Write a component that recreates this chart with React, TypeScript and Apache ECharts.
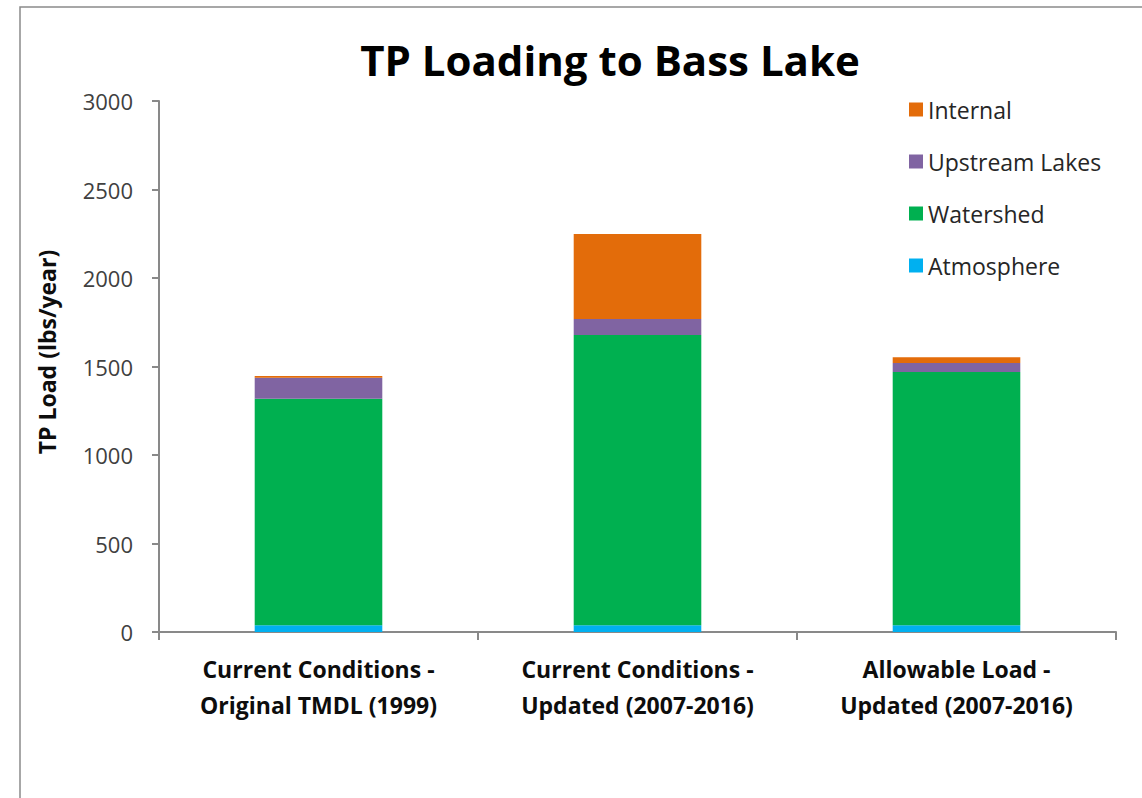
import React, { useEffect, useRef } from "react";
import * as echarts from "echarts";

const categories = [
  "Current Conditions -\nOriginal TMDL (1999)",
  "Current Conditions -\nUpdated (2007-2016)",
  "Allowable Load -\nUpdated (2007-2016)",
];
const atmosphere = [38, 38, 38];
const watershed = [1280, 1640, 1431];
const upstreamLakes = [119, 90, 51];
const internal = [9, 481, 32];
const legendOrder = ["Internal", "Upstream Lakes", "Watershed", "Atmosphere"];

const FONT = "Open Sans";

export default function App() {
  const ref = useRef<HTMLDivElement>(null);
  useEffect(() => {
    const chart = echarts.init(ref.current!, null, { renderer: "svg" });
    const mk = (name: string, data: number[], color: string) => ({
      name,
      type: "bar",
      stack: "total",
      data,
      barCategoryGap: "60%",
      itemStyle: { color },
    });
    chart.setOption({
      animation: false,
      textStyle: { fontFamily: FONT },
      title: {
        text: "TP Loading to Bass Lake",
        left: 605,
        top: 33,
        textAlign: "center",
        textStyle: { fontFamily: FONT, fontSize: 42, fontWeight: "bold", color: "#000" },
      },
      legend: {
        data: legendOrder,
        orient: "vertical",
        left: 904,
        top: 93,
        itemWidth: 14,
        itemHeight: 14,
        itemGap: 29,
        icon: "rect",
        textStyle: { fontFamily: FONT, fontSize: 23, color: "#262626", padding: [0, 0, 0, 0] },
      },
      grid: { left: 159, top: 101, width: 957, height: 531, containLabel: false },
      xAxis: {
        type: "category",
        data: categories,
        axisLine: { lineStyle: { color: "#898989", width: 2 } },
        axisTick: { show: true, length: 8, lineStyle: { color: "#898989", width: 2 } },
        axisLabel: {
          fontFamily: FONT,
          fontSize: 23,
          fontWeight: "bold",
          color: "#0d0d0d",
          lineHeight: 36,
          margin: 19,
        },
      },
      yAxis: {
        type: "value",
        min: 0,
        max: 3000,
        interval: 500,
        splitLine: { show: false },
        axisLine: { show: true, lineStyle: { color: "#898989", width: 2 } },
        axisTick: { show: true, length: 7, lineStyle: { color: "#898989", width: 2 } },
        axisLabel: {
          fontFamily: FONT,
          fontSize: 22,
          color: "#404040",
          margin: 26,
          formatter: (v: number) => String(v),
        },
      },
      graphic: [
        {
          type: "rect",
          shape: { x: 20, y: 7, width: 1300, height: 1000 },
          style: { fill: "none", stroke: "#8a8a8a", lineWidth: 1.5 },
          silent: true,
        },
        {
          type: "text",
          x: 47,
          y: 352,
          rotation: Math.PI / 2,
          style: {
            text: "TP Load (lbs/year)",
            fontFamily: FONT,
            fontSize: 23,
            fontWeight: "bold",
            fill: "#0d0d0d",
            align: "center",
            verticalAlign: "middle",
          },
        },
      ],
      series: [
        mk("Atmosphere", atmosphere, "#00B0F0"),
        mk("Watershed", watershed, "#00B050"),
        mk("Upstream Lakes", upstreamLakes, "#8064A2"),
        mk("Internal", internal, "#E36C0A"),
      ],
    });
    return () => chart.dispose();
  }, []);
  return (
    <div
      ref={ref}
      style={{ position: "fixed", left: 0, top: 0, width: 1142, height: 798, background: "#fff" }}
    />
  );
}
